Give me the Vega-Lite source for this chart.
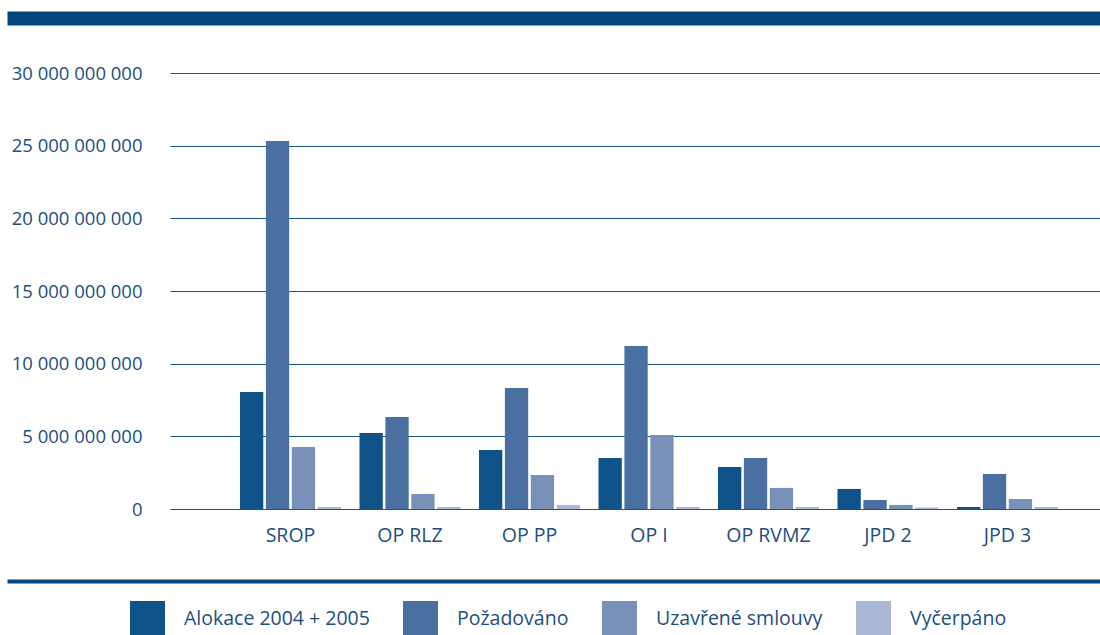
{
  "$schema": "https://vega.github.io/schema/vega-lite/v6.json",
  "width": 1093,
  "height": 436,
  "autosize": {"type": "none"},
  "padding": {"left": 7, "top": 73, "right": 0, "bottom": 126},
  "background": "white",
  "config": {
    "view": {"stroke": null},
    "font": "Open Sans",
    "locale": {"number": {"decimal": ",", "thousands": " ", "grouping": [3], "currency": ["", " Kč"]}}
  },
  "data": {
    "values": [
      {"program": "SROP", "serie": "Alokace 2004 + 2005", "value": 8050000000},
      {"program": "SROP", "serie": "Požadováno", "value": 25320000000},
      {"program": "SROP", "serie": "Uzavřené smlouvy", "value": 4270000000},
      {"program": "SROP", "serie": "Vyčerpáno", "value": 140000000},
      {"program": "OP RLZ", "serie": "Alokace 2004 + 2005", "value": 5230000000},
      {"program": "OP RLZ", "serie": "Požadováno", "value": 6330000000},
      {"program": "OP RLZ", "serie": "Uzavřené smlouvy", "value": 1030000000},
      {"program": "OP RLZ", "serie": "Vyčerpáno", "value": 140000000},
      {"program": "OP PP", "serie": "Alokace 2004 + 2005", "value": 4060000000},
      {"program": "OP PP", "serie": "Požadováno", "value": 8330000000},
      {"program": "OP PP", "serie": "Uzavřené smlouvy", "value": 2340000000},
      {"program": "OP PP", "serie": "Vyčerpáno", "value": 280000000},
      {"program": "OP I", "serie": "Alokace 2004 + 2005", "value": 3510000000},
      {"program": "OP I", "serie": "Požadováno", "value": 11220000000},
      {"program": "OP I", "serie": "Uzavřené smlouvy", "value": 5090000000},
      {"program": "OP I", "serie": "Vyčerpáno", "value": 140000000},
      {"program": "OP RVMZ", "serie": "Alokace 2004 + 2005", "value": 2890000000},
      {"program": "OP RVMZ", "serie": "Požadováno", "value": 3510000000},
      {"program": "OP RVMZ", "serie": "Uzavřené smlouvy", "value": 1450000000},
      {"program": "OP RVMZ", "serie": "Vyčerpáno", "value": 140000000},
      {"program": "JPD 2", "serie": "Alokace 2004 + 2005", "value": 1380000000},
      {"program": "JPD 2", "serie": "Požadováno", "value": 620000000},
      {"program": "JPD 2", "serie": "Uzavřené smlouvy", "value": 280000000},
      {"program": "JPD 2", "serie": "Vyčerpáno", "value": 100000000},
      {"program": "JPD 3", "serie": "Alokace 2004 + 2005", "value": 140000000},
      {"program": "JPD 3", "serie": "Požadováno", "value": 2410000000},
      {"program": "JPD 3", "serie": "Uzavřené smlouvy", "value": 690000000},
      {"program": "JPD 3", "serie": "Vyčerpáno", "value": 140000000}
    ]
  },
  "layer": [
    {
      "mark": {"type": "bar"},
      "encoding": {
        "x": {
          "field": "program",
          "type": "nominal",
          "scale": {
            "domain": [" ", "SROP", "OP RLZ", "OP PP", "OP I", "OP RVMZ", "JPD 2", "JPD 3"],
            "paddingInner": 0.155,
            "paddingOuter": 0.6507,
            "align": 0.7298,
            "round": false
          },
          "axis": {
            "orient": "bottom",
            "title": null,
            "offset": 72,
            "domain": true,
            "domainColor": "#00467d",
            "domainWidth": 4,
            "ticks": false,
            "tickSize": 0,
            "labelPadding": -46,
            "labelBaseline": "middle",
            "labelAngle": 0,
            "labelFont": "Open Sans",
            "labelFontSize": 19.5,
            "labelColor": "#1b4f80",
            "grid": false
          }
        },
        "xOffset": {
          "field": "serie",
          "type": "nominal",
          "sort": ["Alokace 2004 + 2005", "Požadováno", "Uzavřené smlouvy", "Vyčerpáno"],
          "scale": {"paddingInner": 0.1, "paddingOuter": 0}
        },
        "y": {
          "field": "value",
          "type": "quantitative",
          "scale": {"domain": [0, 30000000000], "nice": false},
          "axis": {
            "title": null,
            "values": [0, 5000000000, 10000000000, 15000000000, 20000000000, 25000000000, 30000000000],
            "format": ",d",
            "domain": false,
            "ticks": false,
            "tickSize": 0,
            "labelPadding": -135,
            "labelFlush": false,
            "labelFont": "Open Sans",
            "labelFontSize": 18.5,
            "labelColor": "#1b4f80",
            "grid": true,
            "gridColor": "#1e5488",
            "gridWidth": 1,
            "gridDash": [0, 163, 930, 10]
          }
        },
        "color": {
          "field": "serie",
          "type": "nominal",
          "sort": ["Alokace 2004 + 2005", "Požadováno", "Uzavřené smlouvy", "Vyčerpáno"],
          "scale": {
            "domain": ["Alokace 2004 + 2005", "Požadováno", "Uzavřené smlouvy", "Vyčerpáno"],
            "range": ["#0e5288", "#4a6fa1", "#7990b8", "#a9b8d6"]
          },
          "legend": {
            "title": null,
            "orient": "none",
            "legendX": 123,
            "legendY": 528,
            "direction": "horizontal",
            "columns": 4,
            "padding": 0,
            "symbolType": "square",
            "symbolSize": 1225,
            "symbolStrokeWidth": 0,
            "symbolOpacity": 1,
            "labelFont": "Open Sans",
            "labelFontSize": 19.5,
            "labelLimit": 400,
            "labelColor": "#1b4f80",
            "labelOffset": 19,
            "columnPadding": 33
          }
        }
      }
    },
    {
      "mark": {"type": "text", "text": ""},
      "encoding": {
        "x": {
          "field": "program",
          "type": "nominal",
          "axis": {
            "orient": "top",
            "title": null,
            "offset": 55,
            "domain": true,
            "domainColor": "#00467d",
            "domainWidth": 14,
            "ticks": false,
            "labels": false,
            "grid": false
          }
        }
      }
    }
  ],
  "resolve": {"axis": {"x": "independent"}}
}
